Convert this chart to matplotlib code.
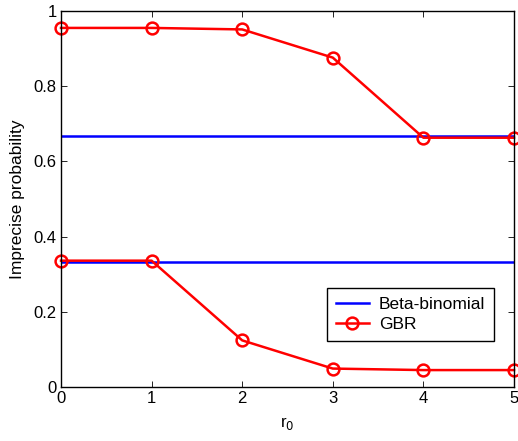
import matplotlib
matplotlib.use("Agg")
import matplotlib.pyplot as plt

plt.rcParams['font.family'] = ['Liberation Sans', 'DejaVu Sans']

r0 = [0, 1, 2, 3, 4, 5]
beta_upper = [2/3] * 6
beta_lower = [1/3] * 6
gbr_upper = [0.955, 0.955, 0.951, 0.876, 0.663, 0.663]
gbr_lower = [0.336, 0.336, 0.124, 0.049, 0.045, 0.045]

fig = plt.figure(figsize=(5.18, 4.41), dpi=100)
ax = fig.add_axes([61/518, 1 - 387/441, (514-61)/518, (387-11)/441])

ax.plot(r0, beta_upper, color='#0000ff', lw=1.8, label='Beta-binomial')
ax.plot(r0, beta_lower, color='#0000ff', lw=1.8)
ax.plot(r0, gbr_upper, color='#ff0000', lw=1.8, marker='o', ms=8.5, mfc='none', mew=1.8, label='GBR', clip_on=False)
ax.plot(r0, gbr_lower, color='#ff0000', lw=1.8, marker='o', ms=8.5, mfc='none', mew=1.8, clip_on=False)

ax.set_xlim(0, 5)
ax.set_ylim(0, 1)
ax.set_xticks(r0)
ax.set_yticks([0, 0.2, 0.4, 0.6, 0.8, 1])
ax.set_yticklabels(['0', '0.2', '0.4', '0.6', '0.8', '1'])
ax.tick_params(direction='in', top=True, right=True, labelsize=12, length=4, width=0.6, pad=3)
for s in ax.spines.values():
    s.set_linewidth(1.0)
ax.set_xlabel('r$_0$', fontsize=12, labelpad=6)
ax.set_ylabel('Imprecise probability', fontsize=12.5, labelpad=6)

leg = ax.legend(loc='lower right', bbox_to_anchor=(494/518, 1 - 341/441), bbox_transform=fig.transFigure,
                borderaxespad=0,
                fontsize=12.5, frameon=True, fancybox=False, edgecolor='black', framealpha=1,
                handlelength=1.9, handletextpad=0.6, borderpad=0.5, labelspacing=0.3)
leg.get_frame().set_linewidth(1.0)

fig.savefig('out.png', dpi=100)
